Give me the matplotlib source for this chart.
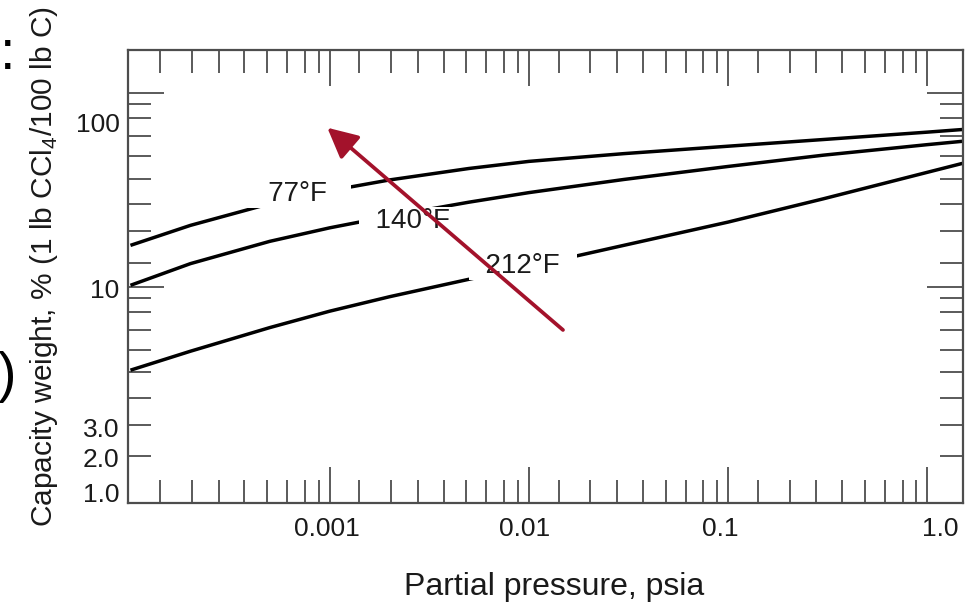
import matplotlib.pyplot as plt

plt.rcParams['font.family'] = ['Liberation Sans', 'DejaVu Sans']
plt.rcParams['mathtext.fontset'] = 'custom'
plt.rcParams['mathtext.rm'] = 'Liberation Sans'

# data (psia vs capacity %)
pressure = [1e-4, 2e-4, 5e-4, 1e-3, 2e-3, 5e-3, 1e-2, 3e-2, 0.1, 0.3, 1.0, 1.5]
cap_77f = [16.4, 20.8, 26.9, 31.4, 35.7, 40.9, 44.5, 48.8, 53.3, 57.7, 63.0, 65.0]
cap_140f = [10.2, 13.2, 17.2, 20.2, 23.2, 27.4, 30.7, 35.9, 41.9, 47.9, 54.3, 56.5]
cap_212f = [3.72, 4.66, 6.17, 7.50, 8.91, 10.96, 12.74, 16.41, 21.63, 28.51, 39.08, 43.45]

curve_labels = ['77°F', '140°F', '212°F']
label_pos = [(6.86e-4, 31.3), (2.62e-3, 22.7), (9.34e-3, 13.3)]

# tick marks
x_major = [1e-3, 1e-2, 1e-1, 1.0]
y_major = [10, 100]
# the chart's own (non standard) minor tick spacing, as fraction of a decade
x_minor_frac = [0.149, 0.309, 0.443, 0.572, 0.686, 0.787, 0.876, 0.944]
y_minor_frac = [0.125, 0.290, 0.426, 0.559, 0.677, 0.778, 0.870, 0.943]

# tick labels, placed where the chart prints them (not always on a tick)
x_labels = ['0.001', '0.01', '0.1', '1.0']
x_label_at = [9.70e-4, 9.56e-3, 0.0911, 1.157]
y_labels = ['100', '10', '3.0', '2.0', '1.0']
y_label_at = [70.3, 9.88, 1.893, 1.325, 0.874]

arrow_tail = (0.01483, 6.0)
arrow_tip = (9.73e-4, 66.4)

gray = '#4d4d4d'
ink = '#1a1a1a'
red = '#a3122b'

fig = plt.figure(figsize=(9.65, 6.05), dpi=100)
ax = fig.add_axes([0.1330, 0.1691, 0.8652, 0.7483])
ax.set_xscale('log')
ax.set_yscale('log')
ax.set_xlim(9.759e-5, 1.515)
ax.set_ylim(0.770, 167.3)

for caps in (cap_77f, cap_140f, cap_212f):
    ax.plot(pressure, caps, color='black', lw=2.5, solid_capstyle='butt',
            solid_joinstyle='round', zorder=2)

pads = ['   ', '  ', '  ']
for lab, (px, py), p in zip(curve_labels, label_pos, pads):
    ax.text(px, py, p + lab + p, fontsize=20, ha='center', va='center_baseline', color=ink,
            bbox=dict(boxstyle='square,pad=0.05', fc='white', ec='none'), zorder=3)

ax.annotate('', xy=arrow_tip, xytext=arrow_tail,
            arrowprops=dict(arrowstyle='-|>', color=red, lw=2.7, mutation_scale=46,
                            shrinkA=0, shrinkB=0), zorder=5)

x_minor = [10 ** (d + f) for d in range(-4, 0) for f in x_minor_frac]
y_minor = [10 ** (d + f) for d in range(0, 2) for f in y_minor_frac]

ax.set_xticks(x_major)
ax.set_xticks(x_minor, minor=True)
ax.set_yticks(y_major)
ax.set_yticks(y_minor, minor=True)
ax.tick_params(which='both', direction='in', top=True, right=True, color=gray, width=1.3,
               labelbottom=False, labelleft=False)
ax.tick_params(which='major', length=26)
ax.tick_params(which='minor', length=16.5)

for lab, xv in zip(x_labels, x_label_at):
    ax.text(xv, -0.031, lab, transform=ax.get_xaxis_transform(), ha='center', va='top',
            fontsize=19, color=ink)
for lab, yv in zip(y_labels, y_label_at):
    ax.text(-0.0105, yv, lab, transform=ax.get_yaxis_transform(), ha='right',
            va='center_baseline', fontsize=19, color=ink)

for s in ax.spines.values():
    s.set_color(gray)
    s.set_linewidth(1.6)

ax.set_xlabel('Partial pressure, psia', fontsize=23, color=ink)
ax.set_ylabel(r'Capacity weight, % (1 lb CCl$_\mathregular{4}$/100 lb C)', fontsize=21.5,
              color=ink)
ax.xaxis.set_label_coords(0.5098, -0.153)
ax.yaxis.set_label_coords(-0.0818, 0.5207)

# fragments of slide text cut at the left edge
fig.text(0.0083, 0.886, ':', fontsize=40, ha='center', va='baseline')
fig.text(-0.002, 0.354, ')', fontsize=40, ha='left', va='baseline')

fig.savefig('out.png', dpi=100)
